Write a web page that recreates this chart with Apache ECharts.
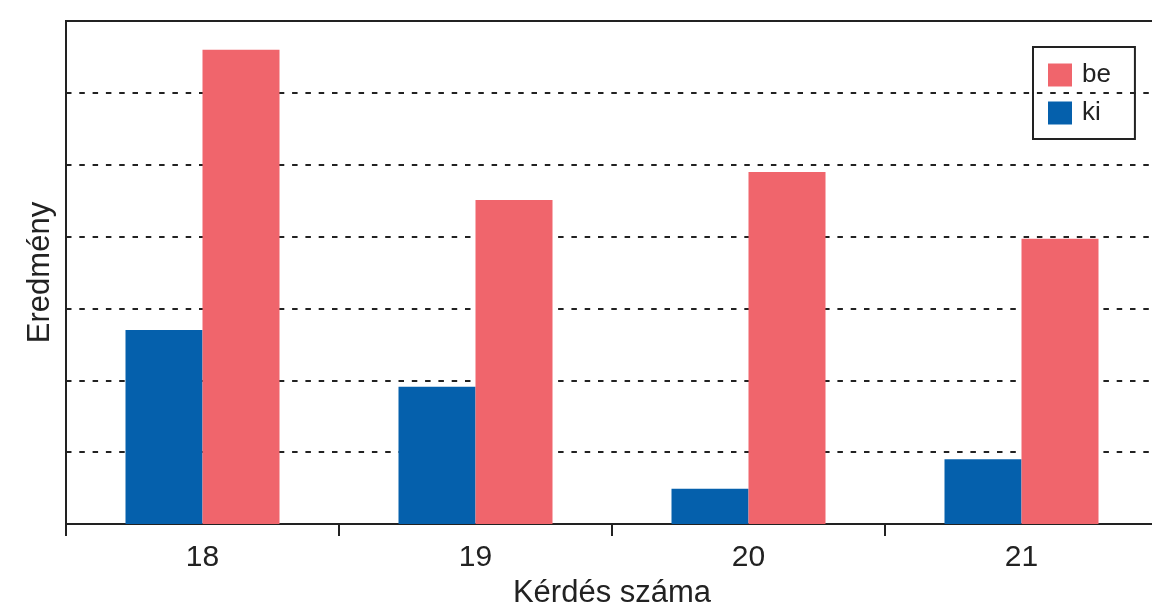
<!DOCTYPE html>
<html><head><meta charset="utf-8">
<script src="https://cdn.jsdelivr.net/npm/echarts@6/dist/echarts.min.js"></script>
<style>html,body{margin:0;padding:0;background:#fff}#c{width:1152px;height:605px}</style>
</head><body><div id="c"></div>
<script>
const categories = ['18', '19', '20', '21'];
const kiValues = [2.70, 1.91, 0.49, 0.90];
const beValues = [6.60, 4.51, 4.90, 3.97];
const legendItems = ['be', 'ki'];

const chart = echarts.init(document.getElementById('c'));
const font = 'Liberation Sans, Arial, sans-serif';
chart.setOption({
  animation: false,
  grid: { left: 66, top: 21, right: -6, bottom: 81, outerBoundsMode: 'none', containLabel: false,
          show: true, borderColor: '#222', borderWidth: 2 },
  legend: {
    data: legendItems, orient: 'vertical', left: 1033, top: 47,
    itemWidth: 24, itemHeight: 23, itemGap: 12, padding: [15, 24, 13, 15],
    borderColor: '#222', borderWidth: 2, icon: 'rect',
    textStyle: { fontFamily: font, fontSize: 26, lineHeight: 23, color: '#222', padding: [0, 0, 0, 5] }
  },
  xAxis: {
    type: 'category', data: categories,
    name: 'Kérdés száma', nameLocation: 'middle', nameGap: 51,
    nameTextStyle: { fontFamily: font, fontSize: 31, color: '#222' },
    axisLine: { lineStyle: { color: '#222', width: 2 } },
    axisTick: { show: true, length: 12, inside: false, lineStyle: { color: '#222', width: 2 } },
    axisLabel: { fontFamily: font, fontSize: 30, color: '#222', margin: 19 }
  },
  yAxis: {
    type: 'value', min: 0, max: 7, interval: 1,
    name: 'Eredmény', nameLocation: 'middle', nameGap: 10,
    nameTextStyle: { fontFamily: font, fontSize: 31, color: '#222' },
    axisLine: { show: true, lineStyle: { color: '#222', width: 2 } },
    axisTick: { show: false }, axisLabel: { show: false },
    splitLine: { show: true, lineStyle: { color: '#222', width: 2, type: [5.5, 7.8] } }
  },
  series: [
    { name: 'ki', type: 'bar', data: kiValues, barWidth: 77, barGap: '0%', itemStyle: { color: '#0560AC' } },
    { name: 'be', type: 'bar', data: beValues, barWidth: 77, barGap: '0%', itemStyle: { color: '#F0656C' } }
  ]
});
</script></body></html>
